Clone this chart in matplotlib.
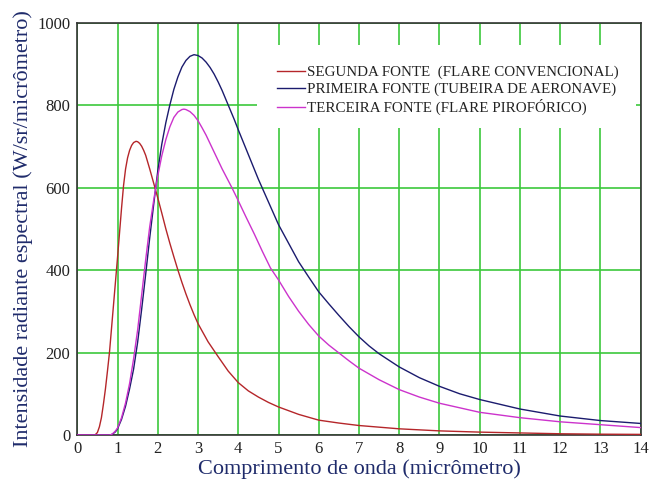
import matplotlib
matplotlib.use("Agg")
import matplotlib.pyplot as plt
from matplotlib.patches import Rectangle

# Data
x_red = [0, 0.44, 0.5, 0.55, 0.6, 0.65, 0.7, 0.75, 0.8, 0.9, 1.0, 1.1, 1.15, 1.2, 1.25, 1.3,
         1.35, 1.4, 1.46, 1.5, 1.55, 1.6, 1.65, 1.7, 1.8, 1.9, 2.0, 2.1, 2.2, 2.3, 2.4, 2.5,
         2.6, 2.7, 2.8, 2.9, 3.0, 3.25, 3.5, 3.75, 4.0, 4.25, 4.5, 4.75, 5, 5.5, 6, 6.5, 7,
         8, 9, 10, 11, 12, 13, 14]
y_red = [0, 0, 6, 20, 42, 75, 112, 155, 200, 315, 430, 550, 605, 645, 672, 690,
         702, 709, 712, 711, 707, 700, 690, 678, 645, 610, 575, 538, 500, 465, 432, 400,
         370, 342, 316, 292, 270, 226, 190, 155, 127, 107, 92, 79, 68, 50, 36, 29, 23,
         15, 10, 7, 5, 3, 2, 1.5]

x_blue = [0, 0.8, 0.85, 0.9, 0.95, 1.0, 1.1, 1.2, 1.3, 1.4, 1.5, 1.6, 1.7, 1.8, 1.9, 2.0,
          2.1, 2.2, 2.3, 2.4, 2.5, 2.6, 2.7, 2.8, 2.9, 3.0, 3.1, 3.2, 3.3, 3.4, 3.5, 3.6,
          3.75, 3.9, 4.0, 4.25, 4.5, 4.75, 5.0, 5.25, 5.5, 5.75, 6, 6.25, 6.5, 6.75, 7, 7.25,
          7.5, 8, 8.5, 9, 9.5, 10, 11, 12, 13, 14]
y_blue = [0, 0, 1, 4, 8, 15, 38, 70, 112, 160, 225, 305, 390, 478, 560, 640,
          705, 757, 800, 838, 868, 892, 908, 918, 922, 920, 914, 904, 891, 875, 856, 835,
          800, 765, 740, 680, 620, 565, 510, 465, 420, 383, 347, 318, 290, 263, 238, 216,
          197, 165, 139, 118, 100, 86, 63, 46, 35, 28]

x_mag = [0, 0.8, 0.85, 0.9, 0.95, 1.0, 1.1, 1.2, 1.3, 1.4, 1.5, 1.6, 1.7, 1.8, 1.9, 2.0,
         2.1, 2.2, 2.3, 2.4, 2.5, 2.6, 2.65, 2.7, 2.8, 2.9, 3.0, 3.1, 3.2, 3.4, 3.6, 3.84,
         4.0, 4.2, 4.4, 4.6, 4.8, 5.0, 5.25, 5.5, 5.75, 6, 6.25, 6.5, 6.75, 7, 7.5, 8, 8.5,
         9, 10, 11, 12, 13, 14]
y_mag = [0, 0, 1, 5, 10, 17, 42, 78, 125, 185, 255, 340, 425, 505, 570, 628,
         677, 716, 747, 770, 783, 789, 790, 789, 784, 775, 762, 745, 727, 686, 645, 600,
         568, 527, 487, 445, 405, 376, 336, 300, 268, 240, 218, 199, 180, 162, 134, 110, 92,
         77, 55, 42, 32, 25, 18]

labels = ["SEGUNDA FONTE  (FLARE CONVENCIONAL)",
          "PRIMEIRA FONTE (TUBEIRA DE AERONAVE)",
          "TERCEIRA FONTE (FLARE PIROFÓRICO)"]
x_ticks = list(range(0, 15))
y_ticks = [0, 200, 400, 600, 800, 1000]

plt.rcParams['font.family'] = ['Liberation Serif', 'DejaVu Serif']

fig = plt.figure(figsize=(6.51, 4.82), dpi=100)
ax = fig.add_axes([0.1187, 0.0975, 0.8655, 0.8558])

ax.set_xlim(0, 14)
ax.set_ylim(0, 1000)
ax.set_xticks(x_ticks)
ax.set_yticks(y_ticks)
ax.grid(True, color='#3cc83c', linewidth=1.2, zorder=0)
ax.set_axisbelow(True)
ax.tick_params(axis='x', length=0, labelsize=12, colors='#222222', pad=4)
ax.tick_params(axis='y', length=0, labelsize=12, colors='#222222', pad=5)

ax.add_patch(Rectangle((0.319, 0.744), 0.673, 0.201, transform=ax.transAxes,
                       facecolor='white', edgecolor='none', zorder=1.5))

ax.plot(x_red, y_red, color='#b5262a', linewidth=1.0, label=labels[0], zorder=3)
ax.plot(x_blue, y_blue, color='#1b1b6e', linewidth=1.0, label=labels[1], zorder=3)
ax.plot(x_mag, y_mag, color='#cc33cc', linewidth=1.0, label=labels[2], zorder=3)

leg = ax.legend(loc='upper left', bbox_to_anchor=(0.343, 0.91), frameon=False,
                fontsize=10.8, handlelength=1.9, handletextpad=0.15, labelspacing=0.2,
                borderaxespad=0)
for t in leg.get_texts():
    t.set_color('#222222')

for s in ax.spines.values():
    s.set_color('#333333')
    s.set_linewidth(1.2)

ax.set_xlabel("Comprimento de onda (micrômetro)", fontsize=16, color='#1f2b6b', labelpad=2)
ax.set_ylabel("Intensidade radiante espectral (W/sr/micrômetro)", fontsize=16,
              color='#1f2b6b', labelpad=3)

fig.savefig("out.png", dpi=100)
